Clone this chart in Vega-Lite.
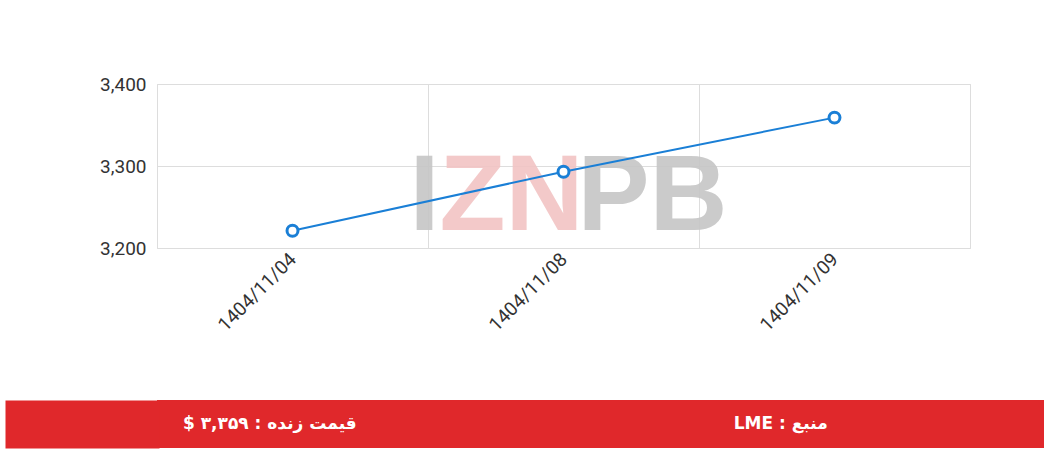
{
  "$schema": "https://vega.github.io/schema/vega-lite/v6.json",
  "padding": {"left": 5, "top": 74, "right": 5, "bottom": 10},
  "background": "white",
  "spacing": 64,
  "config": {"font": "Roboto"},
  "vconcat": [
    {
      "width": 813,
      "height": 164,
      "view": {"stroke": "#dddddd", "strokeWidth": 1},
      "data": {"values": [
        {"date": "1404/11/04", "price": 3221},
        {"date": "1404/11/08", "price": 3293},
        {"date": "1404/11/09", "price": 3359}
      ]},
      "layer": [
        {
          "data": {"values": [{"word": "I", "date": "1404/11/08", "price": 3261}]},
          "mark": {"type": "text", "fontSize": 108, "fontWeight": "bold", "font": "Liberation Sans", "align": "left", "baseline": "middle", "dx": -154, "fill": "#c6c6c6", "opacity": 0.9},
          "encoding": {
            "x": {"field": "date", "type": "nominal"},
            "y": {"field": "price", "type": "quantitative"},
            "text": {"field": "word"}
          }
        },
        {
          "data": {"values": [{"word": "ZN", "date": "1404/11/08", "price": 3261}]},
          "mark": {"type": "text", "fontSize": 108, "fontWeight": "bold", "font": "Liberation Sans", "align": "left", "baseline": "middle", "dx": -124, "fill": "#f2c4c4", "opacity": 0.9},
          "encoding": {
            "x": {"field": "date", "type": "nominal"},
            "y": {"field": "price", "type": "quantitative"},
            "text": {"field": "word"}
          }
        },
        {
          "data": {"values": [{"word": "PB", "date": "1404/11/08", "price": 3261}]},
          "mark": {"type": "text", "fontSize": 108, "fontWeight": "bold", "font": "Liberation Sans", "align": "left", "baseline": "middle", "dx": 14, "fill": "#c6c6c6", "opacity": 0.9},
          "encoding": {
            "x": {"field": "date", "type": "nominal"},
            "y": {"field": "price", "type": "quantitative"},
            "text": {"field": "word"}
          }
        },
        {
          "mark": {"type": "line", "color": "#1a7fd6", "strokeWidth": 2, "interpolate": "monotone"},
          "encoding": {
            "x": {
              "field": "date", "type": "nominal",
              "scale": {"domain": ["1404/11/04", "1404/11/08", "1404/11/09"], "paddingInner": 0, "paddingOuter": 0},
              "axis": {"title": null, "labelAngle": -45, "labelFontSize": 19, "labelColor": "#333333", "ticks": false, "tickBand": "extent", "grid": true, "gridColor": "#dddddd", "domain": false, "labelPadding": 8}
            },
            "y": {
              "field": "price", "type": "quantitative",
              "scale": {"domain": [3200, 3400], "nice": false, "zero": false},
              "axis": {"title": null, "values": [3200, 3300, 3400], "format": ",d", "labelFontSize": 19, "labelColor": "#333333", "ticks": false, "labelPadding": 11, "domain": false, "gridColor": "#dddddd"}
            }
          }
        },
        {
          "mark": {"type": "point", "filled": true, "fill": "white", "stroke": "#1a7fd6", "strokeWidth": 3, "size": 120, "opacity": 1},
          "encoding": {
            "x": {"field": "date", "type": "nominal"},
            "y": {"field": "price", "type": "quantitative"}
          }
        }
      ]
    },
    {
      "width": 887,
      "height": 48,
      "view": {"fill": "#e0282b", "stroke": null},
      "data": {"values": [
        {"label": "\u202bقیمت زنده : ۳,۳۵۹ $\u202c"},
        {"label": "\u202bمنبع : LME\u202c"}
      ]},
      "mark": {"type": "text", "color": "white", "fontWeight": "bold", "fontSize": 17, "font": "DejaVu Sans", "baseline": "middle"},
      "encoding": {
        "x": {"field": "label", "type": "nominal", "sort": null, "axis": null, "scale": {"type": "point", "padding": 0.368, "align": 0.3}},
        "y": {"datum": "footer", "type": "nominal", "axis": {"title": ".", "titleOpacity": 0, "titleFontSize": 1, "titlePadding": 0, "minExtent": 76, "labels": false, "ticks": false, "grid": false, "domain": true, "domainColor": "#e0282b", "domainWidth": 154, "domainCap": "butt", "offset": 75}},
        "text": {"field": "label"}
      }
    }
  ]
}
